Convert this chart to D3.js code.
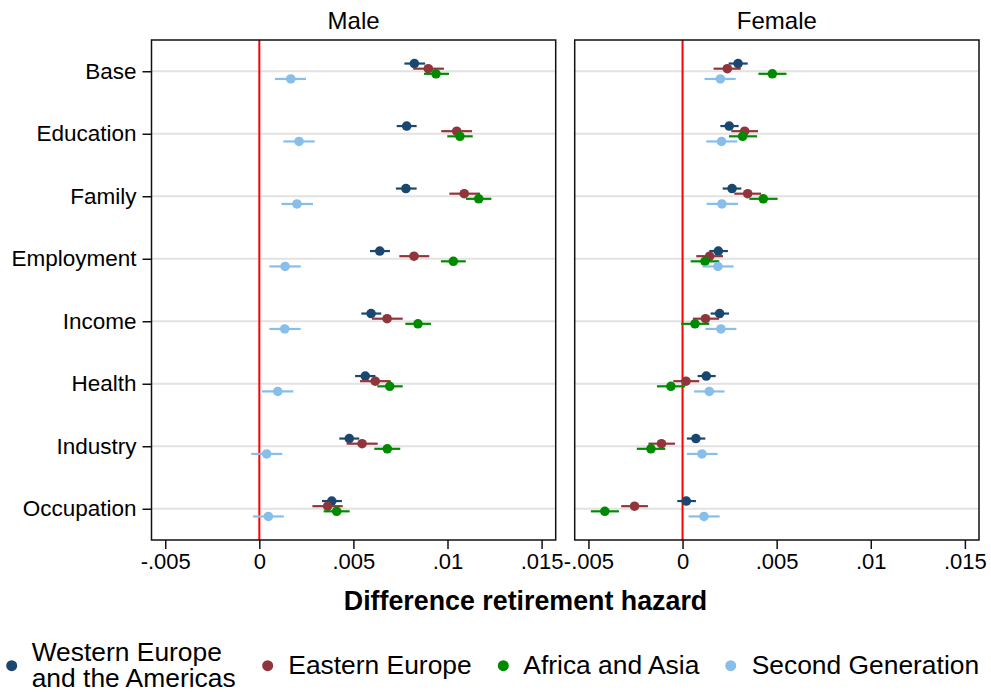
<!DOCTYPE html>
<html>
<head>
<meta charset="utf-8">
<script src="https://cdn.jsdelivr.net/npm/d3@7"></script>
<style>
  html, body { margin: 0; padding: 0; background: #fff; }
  svg { display: block; font-family: "Liberation Sans", Arial, Helvetica, sans-serif; }
</style>
</head>
<body>
<svg id="chart" width="991" height="692"></svg>
<script>
// ---------------- DATA ----------------
const categories = ["Base", "Education", "Family", "Employment", "Income", "Health", "Industry", "Occupation"];
const seriesNames = ["Western Europe and the Americas", "Eastern Europe", "Africa and Asia", "Second Generation"];
const legendLines = [["Western Europe", "and the Americas"], ["Eastern Europe"], ["Africa and Asia"], ["Second Generation"]];
const panelNames = ["Male", "Female"];
const xTicks = [-0.005, 0, 0.005, 0.01, 0.015];
const xTickLabels = ["-.005", "0", ".005", ".01", ".015"];
const xTitle = "Difference retirement hazard";

// each entry: [estimate, lower CI, upper CI], in category order
const maleWestern = [
  [0.00824, 0.00771, 0.00881], [0.00783, 0.00730, 0.00836], [0.00779, 0.00726, 0.00836], [0.00640, 0.00588, 0.00694],
  [0.00594, 0.00542, 0.00648], [0.00563, 0.00509, 0.00617], [0.00478, 0.00425, 0.00531], [0.00385, 0.00333, 0.00439]];
const maleEastern = [
  [0.00898, 0.00818, 0.00981], [0.01049, 0.00967, 0.01130], [0.01089, 0.01010, 0.01173], [0.00822, 0.00744, 0.00903],
  [0.00679, 0.00599, 0.00762], [0.00616, 0.00535, 0.00698], [0.00546, 0.00464, 0.00629], [0.00363, 0.00282, 0.00443]];
const maleAfricaAsia = [
  [0.00939, 0.00875, 0.01008], [0.01066, 0.00999, 0.01134], [0.01166, 0.01098, 0.01233], [0.01031, 0.00965, 0.01097],
  [0.00843, 0.00776, 0.00912], [0.00693, 0.00627, 0.00762], [0.00680, 0.00611, 0.00749], [0.00411, 0.00342, 0.00480]];
const maleSecondGen = [
  [0.00167, 0.00083, 0.00248], [0.00211, 0.00128, 0.00294], [0.00200, 0.00117, 0.00285], [0.00137, 0.00053, 0.00220],
  [0.00135, 0.00053, 0.00220], [0.00098, 0.00014, 0.00181], [0.00039, -0.00043, 0.00122], [0.00048, -0.00033, 0.00130]];

const femaleWestern = [
  [0.00295, 0.00245, 0.00346], [0.00248, 0.00201, 0.00298], [0.00263, 0.00213, 0.00312], [0.00190, 0.00142, 0.00241],
  [0.00197, 0.00149, 0.00247], [0.00126, 0.00080, 0.00176], [0.00071, 0.00023, 0.00121], [0.00020, -0.00028, 0.00071]];
const femaleEastern = [
  [0.00238, 0.00165, 0.00309], [0.00330, 0.00259, 0.00401], [0.00346, 0.00275, 0.00417], [0.00144, 0.00073, 0.00215],
  [0.00122, 0.00055, 0.00194], [0.00018, -0.00049, 0.00089], [-0.00112, -0.00181, -0.00040], [-0.00255, -0.00326, -0.00184]];
const femaleAfricaAsia = [
  [0.00477, 0.00403, 0.00552], [0.00319, 0.00247, 0.00396], [0.00429, 0.00355, 0.00505], [0.00119, 0.00043, 0.00195],
  [0.00066, -0.00007, 0.00142], [-0.00062, -0.00136, 0.00013], [-0.00168, -0.00243, -0.00092], [-0.00413, -0.00487, -0.00338]];
const femaleSecondGen = [
  [0.00201, 0.00117, 0.00282], [0.00207, 0.00126, 0.00291], [0.00209, 0.00128, 0.00295], [0.00188, 0.00106, 0.00271],
  [0.00204, 0.00122, 0.00286], [0.00142, 0.00061, 0.00223], [0.00103, 0.00023, 0.00186], [0.00114, 0.00032, 0.00197]];

const panelData = [
  [maleWestern, maleEastern, maleAfricaAsia, maleSecondGen],
  [femaleWestern, femaleEastern, femaleAfricaAsia, femaleSecondGen]
];
const colors = ["#1a476f", "#90353b", "#008a00", "#87bfea"];

// ---------------- LAYOUT ----------------
const svg = d3.select("#chart");
const plotTop = 40, plotBottom = 540;
const panelX = [[151.5, 555.7], [574.7, 979]];
const xDomain = [-0.00573, 0.01575];

const y = d3.scalePoint().domain(categories).range([plotTop, plotBottom]).padding(0.5);
const off = d3.scalePoint().domain(seriesNames).range([-7.7, 7.7]);

panelData.forEach((panel, pi) => {
  const [x0, x1] = panelX[pi];
  const x = d3.scaleLinear().domain(xDomain).range([x0, x1]);
  const g = svg.append("g");

  g.append("rect").attr("x", x0).attr("y", plotTop).attr("width", x1 - x0).attr("height", plotBottom - plotTop)
    .attr("fill", "#fff");

  g.selectAll(".grid").data(categories).join("line")
    .attr("x1", x0).attr("x2", x1)
    .attr("y1", d => y(d)).attr("y2", d => y(d))
    .attr("stroke", "#e2e2e2").attr("stroke-width", 1.8);

  g.append("line").attr("x1", x(0)).attr("x2", x(0)).attr("y1", plotTop).attr("y2", plotBottom)
    .attr("stroke", "#ff0000").attr("stroke-width", 2);

  panel.forEach((vals, si) => {
    const sg = g.append("g");
    sg.selectAll("line").data(vals).join("line")
      .attr("x1", d => x(d[1])).attr("x2", d => x(d[2]))
      .attr("y1", (d, i) => y(categories[i]) + off(seriesNames[si]))
      .attr("y2", (d, i) => y(categories[i]) + off(seriesNames[si]))
      .attr("stroke", colors[si]).attr("stroke-width", 2.2);
    sg.selectAll("circle").data(vals).join("circle")
      .attr("cx", d => x(d[0]))
      .attr("cy", (d, i) => y(categories[i]) + off(seriesNames[si]))
      .attr("r", 4.8).attr("fill", colors[si]);
  });

  g.append("rect").attr("x", x0).attr("y", plotTop).attr("width", x1 - x0).attr("height", plotBottom - plotTop)
    .attr("fill", "none").attr("stroke", "#111").attr("stroke-width", 1.5);

  const xAxis = d3.axisBottom(x).tickValues(xTicks).tickFormat((d, i) => xTickLabels[i])
    .tickSize(9).tickPadding(4);
  const ax = g.append("g").attr("transform", `translate(0,${plotBottom})`).call(xAxis);
  ax.select(".domain").remove();
  ax.selectAll(".tick line").attr("stroke", "#111").attr("stroke-width", 1.5);
  ax.selectAll(".tick text").attr("font-size", 22).attr("fill", "#000")
    .attr("font-family", "'Liberation Sans', Arial, sans-serif");

  if (pi === 0) {
    const yAxis = d3.axisLeft(y).tickSize(9).tickPadding(6);
    const ay = g.append("g").attr("transform", `translate(${x0},0)`).call(yAxis);
    ay.select(".domain").remove();
    ay.selectAll(".tick line").attr("stroke", "#111").attr("stroke-width", 1.5);
    ay.selectAll(".tick text").attr("font-size", 22.5).attr("fill", "#000")
      .attr("font-family", "'Liberation Sans', Arial, sans-serif");
  }

  svg.append("text").attr("x", (x0 + x1) / 2).attr("y", 28.5)
    .attr("text-anchor", "middle").attr("font-size", 24).attr("fill", "#000")
    .text(panelNames[pi]);
});

svg.append("text").attr("x", 525.5).attr("y", 610)
  .attr("text-anchor", "middle").attr("font-size", 26.8).attr("font-weight", "bold").attr("fill", "#000")
  .text(xTitle);

const legendPos = [[11.7, 31.7], [267.7, 288.3], [503.3, 523.3], [730.7, 751.7]];
const legendY = 665.7;
legendLines.forEach((lines, i) => {
  const [mx, tx] = legendPos[i];
  svg.append("circle").attr("cx", mx).attr("cy", legendY).attr("r", 5.5).attr("fill", colors[i]);
  const t = svg.append("text").attr("font-size", 26.4).attr("fill", "#000");
  if (lines.length === 1) {
    t.append("tspan").attr("x", tx).attr("y", 674).text(lines[0]);
  } else {
    t.append("tspan").attr("x", tx).attr("y", 660.7).text(lines[0]);
    t.append("tspan").attr("x", tx).attr("y", 686.7).text(lines[1]);
  }
});
</script>
</body>
</html>
